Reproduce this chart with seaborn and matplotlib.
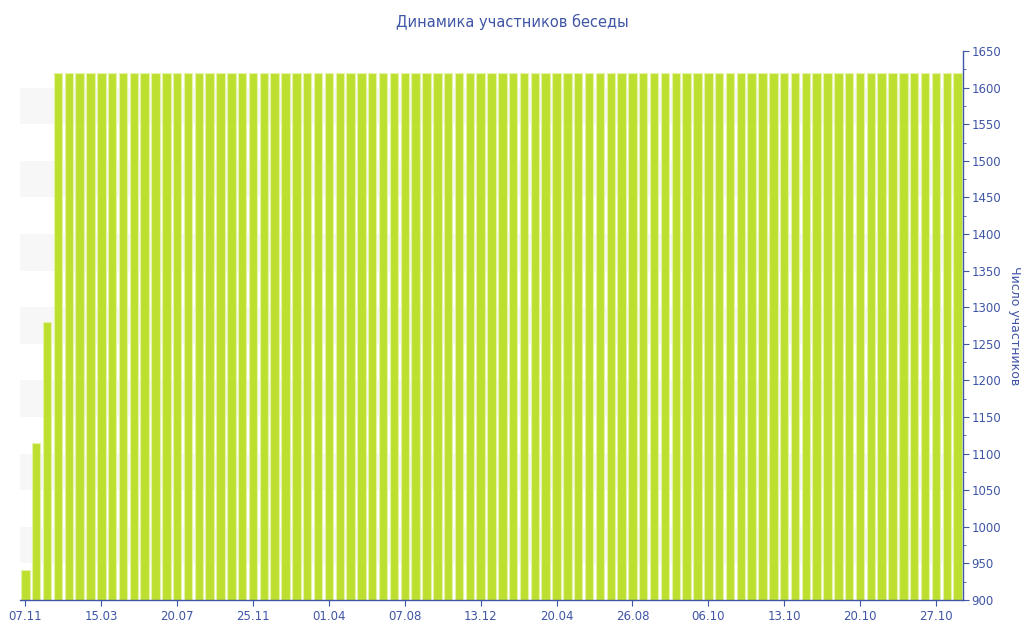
import seaborn as sb
import matplotlib.pyplot as plt
import numpy as np
import pandas as pd

# Data
first_values = [941, 1114, 1280]
plateau_value = 1620
n_plateau = 84
members = first_values + [plateau_value] * n_plateau

tick_labels = ['07.11', '15.03', '20.07', '25.11', '01.04', '07.08', '13.12',
               '20.04', '26.08', '06.10', '13.10', '20.10', '27.10']
tick_step = 7

title = 'Динамика участников беседы'
ylabel = 'Число участников'

df = pd.DataFrame({'day': np.arange(len(members)), 'members': members})

blue = '#3f55a5'
bar_color = '#bde030'

sb.set_style('white')
plt.rcParams['font.family'] = ['DejaVu Sans']

fig = plt.figure(figsize=(10.24, 6.4), dpi=100)
ax = fig.add_axes([20 / 1024, 1 - 600 / 640, 943 / 1024, 549 / 640])

# alternating background bands
for lo in range(950, 1650, 100):
    ax.axhspan(lo, lo + 50, color='#f7f7f7', zorder=0, lw=0)

sb.barplot(data=df, x='day', y='members', color=bar_color, saturation=1,
           width=0.78, edgecolor='#e4f3a8', linewidth=0.8, ax=ax, zorder=2)

ax.set_ylim(900, 1650)
ax.set_xlim(-0.5, len(members) - 0.5)

ax.yaxis.tick_right()
ax.yaxis.set_label_position('right')
ax.set_yticks(np.arange(900, 1651, 50))
ax.set_yticks(np.arange(925, 1650, 50), minor=True)
ax.set_xticks(np.arange(0, len(members), tick_step)[:len(tick_labels)])
ax.set_xticklabels(tick_labels)
ax.set_xlabel('')
ax.set_ylabel(ylabel, rotation=270, labelpad=14, color=blue, fontsize=9)

ax.tick_params(axis='both', which='major', colors=blue, labelsize=8.5,
               length=4, width=0.8, direction='out')
ax.tick_params(axis='y', which='minor', colors=blue, length=2.5, width=0.6,
               right=True, left=False)
ax.tick_params(axis='y', which='major', right=True, left=False, pad=2)
ax.tick_params(axis='x', which='major', bottom=True, pad=3)

for side in ['top', 'left']:
    ax.spines[side].set_visible(False)
ax.spines['right'].set_color(blue)
ax.spines['bottom'].set_color(blue)
ax.spines['right'].set_linewidth(1)
ax.spines['bottom'].set_linewidth(1)

fig.text(0.5, 1 - 22 / 640, title, ha='center', va='center', color=blue,
         fontsize=10.5)

plt.savefig('out.png', dpi=100)
